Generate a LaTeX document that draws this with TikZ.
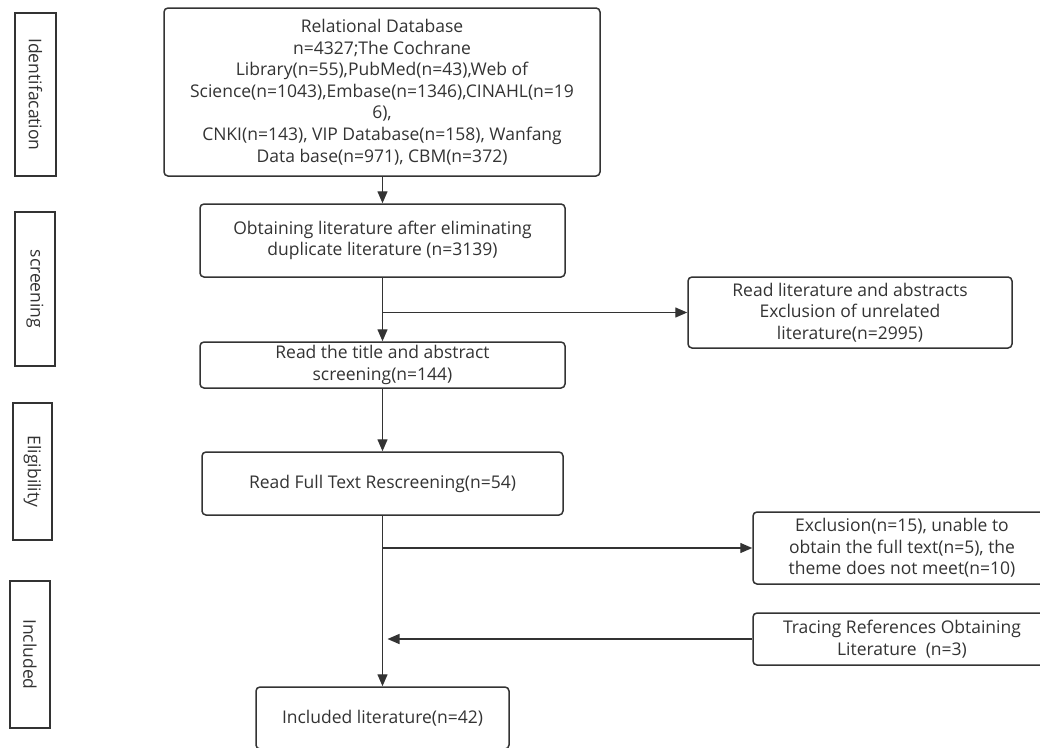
\documentclass[tikz,border=0pt]{standalone}
\usepackage{fontspec}
\setmainfont{Open Sans}
\usetikzlibrary{arrows.meta}
\definecolor{ln}{HTML}{333333}
\begin{document}
\begin{tikzpicture}[x=1pt,y=-1pt,
  box/.style={draw=ln, line width=1.5pt, rounded corners=4pt, align=center, inner sep=0pt, text=ln, font=\fontsize{17.5}{21.6}\selectfont},
  side/.style={draw=ln, line width=1.5pt, inner sep=0pt, text=ln, rotate=-90, font=\fontsize{17.5}{20}\selectfont},
  arr/.style={draw=ln, line width=1.4pt, -{Triangle[length=12pt,width=10pt]}}]
\useasboundingbox (0,0) rectangle (1040,747);
% side labels
\node[side, minimum width=163, minimum height=41] (s1) at (35.5,94.5) {Identifacation};
\node[side, minimum width=154, minimum height=40] (s2) at (35,289) {screening};
\node[side, minimum width=137, minimum height=39] (s3) at (32.5,471.5) {Eligibility};
\node[side, minimum width=147, minimum height=40] (s4) at (30,654.5) {Included};
% main boxes
\node[box, minimum width=436, minimum height=168] (b1) at (382,92) {Relational Database\\n=4327;The Cochrane\\Library(n=55),PubMed(n=43),Web of\\Science(n=1043),Embase(n=1346),CINAHL(n=19\\6),\\CNKI(n=143), VIP Database(n=158), Wanfang\\Data base(n=971), CBM(n=372)};
\node[box, minimum width=365, minimum height=73] (b2) at (382.5,240.5) {Obtaining literature after eliminating\\duplicate literature (n=3139)};
\node[box, minimum width=365, minimum height=46] (b3) at (382.5,365) {Read the title and abstract\\screening(n=144)};
\node[box, minimum width=361, minimum height=63] (b4) at (382.5,483.5) {Read Full Text Rescreening(n=54)};
\node[box, minimum width=253, minimum height=62] (b7) at (382.5,718) {Included literature(n=42)};
\node[box, minimum width=324, minimum height=71] (r1) at (850,312.5) {Read literature and abstracts\\Exclusion of unrelated\\literature(n=2995)};
\node[box, minimum width=298, minimum height=72] (b5) at (902,548) {Exclusion(n=15), unable to\\obtain the full text(n=5), the\\theme does not meet(n=10)};
\node[box, minimum width=298, minimum height=52] (b6) at (902,639) {Tracing References Obtaining\\Literature\ \ (n=3)};
% connectors
\draw[arr] (b1.south -| b2.north) -- (b2.north);
\draw[arr] (b2.south) -- (b3.north);
\coordinate (j1) at (b2.south |- r1.west);
\draw[arr] (j1) -- (r1.west);
\draw[arr] (b3.south) -- (b4.north);
\draw[arr] (b4.south) -- (b7.north);
\coordinate (j2) at (b4.south |- b5.west);
\draw[arr] (j2) -- (b5.west);
\coordinate (j3) at ([xshift=5pt]b4.south |- b6.west);
\draw[arr] (b6.west) -- (j3);
\end{tikzpicture}
\end{document}
